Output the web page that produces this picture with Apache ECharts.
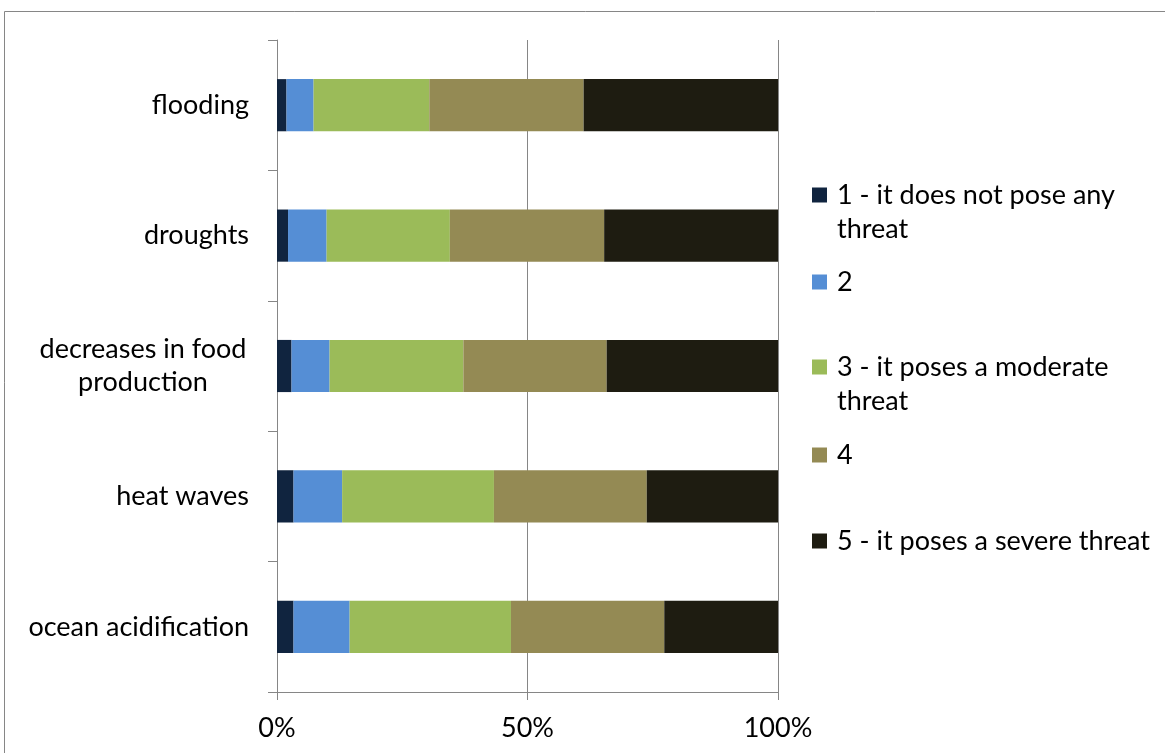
<!DOCTYPE html>
<html>
<head>
<meta charset="utf-8">
<script src="https://cdn.jsdelivr.net/npm/echarts@6/dist/echarts.min.js"></script>
<style>
  html, body { margin: 0; padding: 0; background: #ffffff; }
  #chart { width: 1165px; height: 753px; }
</style>
</head>
<body>
<div id="chart"></div>
<script>
// Perceived threat of climate impacts, share of answers per rating (percent)
const categories = ['flooding', 'droughts', 'decreases in food production', 'heat waves', 'ocean acidification'];
const seriesNames = [
  '1 - it does not pose any threat',
  '2',
  '3 - it poses a moderate threat',
  '4',
  '5 - it poses a severe threat'
];
// legend text split into its first line and its wrapped remainder
const legendFirstLines = ['1 - it does not pose any', '2', '3 - it poses a moderate', '4', '5 - it poses a severe threat'];
const legendSecondLines = ['threat', '', 'threat', '', ''];
const rating1 = [1.9, 2.2, 2.9, 3.3, 3.3];
const rating2 = [5.4, 7.7, 7.6, 9.7, 11.2];
const rating3 = [23.1, 24.6, 26.7, 30.3, 32.2];
const rating4 = [30.8, 30.8, 28.6, 30.5, 30.6];
const rating5 = [38.8, 34.7, 34.2, 26.2, 22.7];
const xTicks = [0, 50, 100];

const values = [rating1, rating2, rating3, rating4, rating5];
const colors = ['#10243f', '#558ed5', '#9bbb59', '#948a54', '#1e1c11'];
const FONT = 'Lato';
const FS = 27;
const LH = 34;
const gray = '#868686';

// one legend block per rating so entries sit in evenly spaced slots
const legendLeft = 812;
const legendTops = [178, 265, 350, 438, 524];
const legends = seriesNames.map((name, i) => ({
  data: [name],
  orient: 'vertical',
  left: legendLeft,
  top: legendTops[i],
  padding: 0,
  itemWidth: 15,
  itemHeight: 15,
  itemGap: 0,
  icon: 'rect',
  selectedMode: false,
  formatter: () => legendFirstLines[i],
  textStyle: {
    fontFamily: FONT,
    fontSize: FS,
    color: '#000000',
    lineHeight: LH,
    padding: [0, 0, 0, 5]
  }
}));

// wrapped continuation lines of the long legend entries
const legendWraps = legendSecondLines
  .map((t, i) => ({ t, i }))
  .filter(d => d.t)
  .map(d => ({
    type: 'text',
    left: legendLeft + 25,
    top: legendTops[d.i] + LH,
    silent: true,
    style: {
      text: d.t,
      fontFamily: FONT,
      fontSize: FS,
      fill: '#000000',
      lineHeight: LH
    }
  }));

const series = seriesNames.map((name, i) => ({
  name: name,
  type: 'bar',
  stack: 'total',
  barCategoryGap: '60%',
  data: values[i],
  itemStyle: { color: colors[i] },
  emphasis: { disabled: true }
}));

const chart = echarts.init(document.getElementById('chart'), null, { renderer: 'canvas' });
chart.setOption({
  animation: false,
  backgroundColor: '#ffffff',
  graphic: [{
    type: 'rect',
    shape: { x: 4.5, y: 11.5, width: 1300, height: 900 },
    style: { fill: 'none', stroke: gray, lineWidth: 1 },
    silent: true,
    z: -10
  }].concat(legendWraps),
  legend: legends,
  grid: { left: 277, right: 387, top: 40, bottom: 61, containLabel: false },
  xAxis: {
    type: 'value',
    min: xTicks[0],
    max: xTicks[xTicks.length - 1],
    interval: 50,
    axisLine: { show: true, lineStyle: { color: gray, width: 1 } },
    axisTick: { show: true, length: 8, lineStyle: { color: gray } },
    splitLine: { show: true, lineStyle: { color: gray, width: 1 } },
    axisLabel: {
      formatter: '{value}%',
      fontFamily: FONT,
      fontSize: FS,
      color: '#000000',
      margin: 23
    }
  },
  yAxis: {
    type: 'category',
    data: categories,
    inverse: true,
    axisLine: { show: true, lineStyle: { color: gray, width: 1 } },
    axisTick: { show: true, length: 9, lineStyle: { color: gray } },
    axisLabel: {
      fontFamily: FONT,
      fontSize: FS,
      color: '#000000',
      margin: 28,
      lineHeight: 33,
      formatter: (v) => v === 'decreases in food production'
        ? '{c|decreases in food}\n{c|production}'
        : v,
      rich: {
        c: { fontFamily: FONT, fontSize: FS, color: '#000000', width: 212, align: 'center', lineHeight: 33 }
      }
    }
  },
  series: series
});
</script>
</body>
</html>
